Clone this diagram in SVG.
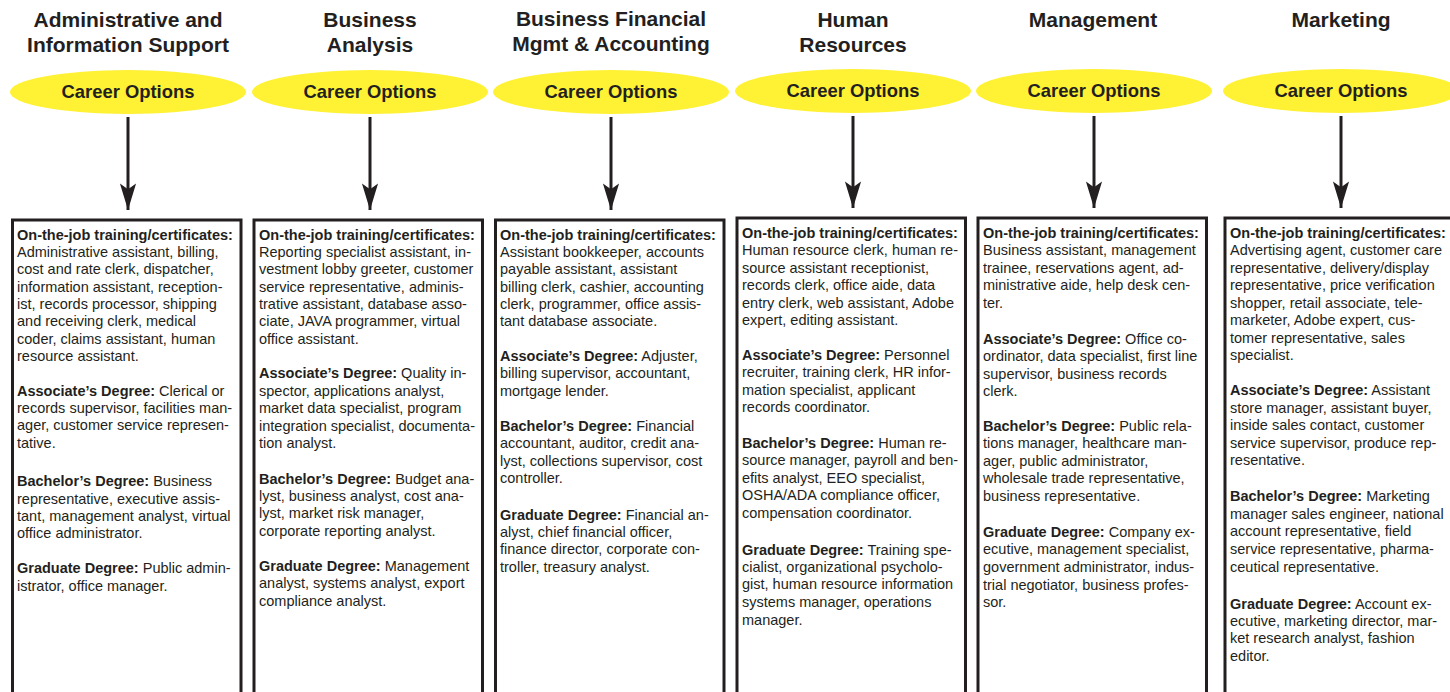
<svg xmlns="http://www.w3.org/2000/svg" width="1450" height="692" viewBox="0 0 1450 692">
<defs>
<style>
.title{font-family:"Liberation Sans",Arial,sans-serif;font-weight:bold;font-size:21px;fill:#231f20;text-anchor:middle}
.opt{font-family:"Liberation Sans",Arial,sans-serif;font-weight:bold;font-size:18.4px;fill:#231f20;text-anchor:middle}
.ell{fill:#fff133;stroke:none}
.box{fill:#ffffff;stroke:#231f20;stroke-width:3}
.body{font-family:"Liberation Sans",Arial,sans-serif;font-size:14.5px;fill:#231f20}
.b{font-weight:bold}
.conn{stroke:#231f20;stroke-width:3;fill:none;marker-end:url(#arr)}
</style>
<marker id="arr" markerUnits="userSpaceOnUse" markerWidth="30" markerHeight="20" viewBox="-24 -8 26 16" refX="0" refY="0" orient="auto">
<path d="M0,0 L-23,-7 L-18,0 L-23,7 Z" fill="#231f20"/>
</marker>
</defs>
<rect width="1450" height="692" fill="#ffffff"/>

<g id="connectors">
<line class="conn" x1="128" y1="117" x2="128" y2="210"/>
<line class="conn" x1="370" y1="117" x2="370" y2="210"/>
<line class="conn" x1="611" y1="117" x2="611" y2="210"/>
<line class="conn" x1="853" y1="116" x2="853" y2="208"/>
<line class="conn" x1="1094" y1="116" x2="1094" y2="208"/>
<line class="conn" x1="1341" y1="116" x2="1341" y2="208"/>
</g>

<g id="title-admin"><text class="title" x="128" y="27">Administrative and</text><text class="title" x="128" y="52">Information Support</text></g>
<g id="title-analysis"><text class="title" x="370" y="27">Business</text><text class="title" x="370" y="52">Analysis</text></g>
<g id="title-finance"><text class="title" x="611" y="26">Business Financial</text><text class="title" x="611" y="51">Mgmt &amp; Accounting</text></g>
<g id="title-hr"><text class="title" x="853" y="27">Human</text><text class="title" x="853" y="52">Resources</text></g>
<g id="title-mgmt"><text class="title" x="1093" y="27">Management</text></g>
<g id="title-mkt"><text class="title" x="1341" y="27">Marketing</text></g>

<g id="career-admin"><ellipse class="ell" cx="128" cy="92" rx="118" ry="22"/><text class="opt" x="128" y="98">Career Options</text></g>
<g id="career-analysis"><ellipse class="ell" cx="370" cy="92" rx="118" ry="22"/><text class="opt" x="370" y="98">Career Options</text></g>
<g id="career-finance"><ellipse class="ell" cx="611" cy="92" rx="118" ry="22"/><text class="opt" x="611" y="98">Career Options</text></g>
<g id="career-hr"><ellipse class="ell" cx="853" cy="91" rx="118" ry="22"/><text class="opt" x="853" y="97">Career Options</text></g>
<g id="career-mgmt"><ellipse class="ell" cx="1094" cy="91" rx="118" ry="22"/><text class="opt" x="1094" y="97">Career Options</text></g>
<g id="career-mkt"><ellipse class="ell" cx="1341" cy="91" rx="118" ry="22"/><text class="opt" x="1341" y="97">Career Options</text></g>

<g id="box-admin">
<rect class="box" x="12.5" y="220" width="228.5" height="490"/>
<text class="body" x="17">
<tspan x="17" y="240" class="b">On-the-job training/certificates:</tspan>
<tspan x="17" y="257">Administrative assistant, billing,</tspan>
<tspan x="17" y="274">cost and rate clerk, dispatcher,</tspan>
<tspan x="17" y="292">information assistant, reception-</tspan>
<tspan x="17" y="309">ist, records processor, shipping</tspan>
<tspan x="17" y="326">and receiving clerk, medical</tspan>
<tspan x="17" y="344">coder, claims assistant, human</tspan>
<tspan x="17" y="361">resource assistant.</tspan>
<tspan x="17" y="396"><tspan class="b">Associate’s Degree:</tspan> Clerical or</tspan>
<tspan x="17" y="413">records supervisor, facilities man-</tspan>
<tspan x="17" y="430">ager, customer service represen-</tspan>
<tspan x="17" y="448">tative.</tspan>
<tspan x="17" y="486"><tspan class="b">Bachelor’s Degree:</tspan> Business</tspan>
<tspan x="17" y="504">representative, executive assis-</tspan>
<tspan x="17" y="521">tant, management analyst, virtual</tspan>
<tspan x="17" y="538">office administrator.</tspan>
<tspan x="17" y="573"><tspan class="b">Graduate Degree:</tspan> Public admin-</tspan>
<tspan x="17" y="591">istrator, office manager.</tspan>
</text>
</g>

<g id="box-analysis">
<rect class="box" x="254" y="220" width="228.5" height="490"/>
<text class="body" x="259">
<tspan x="259" y="240" class="b">On-the-job training/certificates:</tspan>
<tspan x="259" y="257">Reporting specialist assistant, in-</tspan>
<tspan x="259" y="274">vestment lobby greeter, customer</tspan>
<tspan x="259" y="292">service representative, adminis-</tspan>
<tspan x="259" y="309">trative assistant, database asso-</tspan>
<tspan x="259" y="326">ciate, JAVA programmer, virtual</tspan>
<tspan x="259" y="344">office assistant.</tspan>
<tspan x="259" y="378"><tspan class="b">Associate’s Degree:</tspan> Quality in-</tspan>
<tspan x="259" y="396">spector, applications analyst,</tspan>
<tspan x="259" y="413">market data specialist, program</tspan>
<tspan x="259" y="431">integration specialist, documenta-</tspan>
<tspan x="259" y="448">tion analyst.</tspan>
<tspan x="259" y="484"><tspan class="b">Bachelor’s Degree:</tspan> Budget ana-</tspan>
<tspan x="259" y="501">lyst, business analyst, cost ana-</tspan>
<tspan x="259" y="518">lyst, market risk manager,</tspan>
<tspan x="259" y="536">corporate reporting analyst.</tspan>
<tspan x="259" y="571"><tspan class="b">Graduate Degree:</tspan> Management</tspan>
<tspan x="259" y="588">analyst, systems analyst, export</tspan>
<tspan x="259" y="606">compliance analyst.</tspan>
</text>
</g>

<g id="box-finance">
<rect class="box" x="495.5" y="220" width="228.5" height="490"/>
<text class="body" x="500">
<tspan x="500" y="240" class="b">On-the-job training/certificates:</tspan>
<tspan x="500" y="257">Assistant bookkeeper, accounts</tspan>
<tspan x="500" y="274">payable assistant, assistant</tspan>
<tspan x="500" y="292">billing clerk, cashier, accounting</tspan>
<tspan x="500" y="309">clerk, programmer, office assis-</tspan>
<tspan x="500" y="326">tant database associate.</tspan>
<tspan x="500" y="361"><tspan class="b">Associate’s Degree:</tspan> Adjuster,</tspan>
<tspan x="500" y="378">billing supervisor, accountant,</tspan>
<tspan x="500" y="396">mortgage lender.</tspan>
<tspan x="500" y="431"><tspan class="b">Bachelor’s Degree:</tspan> Financial</tspan>
<tspan x="500" y="448">accountant, auditor, credit ana-</tspan>
<tspan x="500" y="466">lyst, collections supervisor, cost</tspan>
<tspan x="500" y="483">controller.</tspan>
<tspan x="500" y="520"><tspan class="b">Graduate Degree:</tspan> Financial an-</tspan>
<tspan x="500" y="537">alyst, chief financial officer,</tspan>
<tspan x="500" y="554">finance director, corporate con-</tspan>
<tspan x="500" y="572">troller, treasury analyst.</tspan>
</text>
</g>

<g id="box-hr">
<rect class="box" x="737" y="218" width="228.5" height="490"/>
<text class="body" x="742">
<tspan x="742" y="238" class="b">On-the-job training/certificates:</tspan>
<tspan x="742" y="255">Human resource clerk, human re-</tspan>
<tspan x="742" y="273">source assistant receptionist,</tspan>
<tspan x="742" y="290">records clerk, office aide, data</tspan>
<tspan x="742" y="308">entry clerk, web assistant, Adobe</tspan>
<tspan x="742" y="325">expert, editing assistant.</tspan>
<tspan x="742" y="360"><tspan class="b">Associate’s Degree:</tspan> Personnel</tspan>
<tspan x="742" y="377">recruiter, training clerk, HR infor-</tspan>
<tspan x="742" y="395">mation specialist, applicant</tspan>
<tspan x="742" y="412">records coordinator.</tspan>
<tspan x="742" y="448"><tspan class="b">Bachelor’s Degree:</tspan> Human re-</tspan>
<tspan x="742" y="465">source manager, payroll and ben-</tspan>
<tspan x="742" y="483">efits analyst, EEO specialist,</tspan>
<tspan x="742" y="500">OSHA/ADA compliance officer,</tspan>
<tspan x="742" y="518">compensation coordinator.</tspan>
<tspan x="742" y="555"><tspan class="b">Graduate Degree:</tspan> Training spe-</tspan>
<tspan x="742" y="572">cialist, organizational psycholo-</tspan>
<tspan x="742" y="589">gist, human resource information</tspan>
<tspan x="742" y="607">systems manager, operations</tspan>
<tspan x="742" y="625">manager.</tspan>
</text>
</g>

<g id="box-mgmt">
<rect class="box" x="978" y="218" width="228.5" height="490"/>
<text class="body" x="983">
<tspan x="983" y="238" class="b">On-the-job training/certificates:</tspan>
<tspan x="983" y="255">Business assistant, management</tspan>
<tspan x="983" y="273">trainee, reservations agent, ad-</tspan>
<tspan x="983" y="290">ministrative aide, help desk cen-</tspan>
<tspan x="983" y="308">ter.</tspan>
<tspan x="983" y="344"><tspan class="b">Associate’s Degree:</tspan> Office co-</tspan>
<tspan x="983" y="361">ordinator, data specialist, first line</tspan>
<tspan x="983" y="379">supervisor, business records</tspan>
<tspan x="983" y="396">clerk.</tspan>
<tspan x="983" y="431"><tspan class="b">Bachelor’s Degree:</tspan> Public rela-</tspan>
<tspan x="983" y="448">tions manager, healthcare man-</tspan>
<tspan x="983" y="466">ager, public administrator,</tspan>
<tspan x="983" y="483">wholesale trade representative,</tspan>
<tspan x="983" y="501">business representative.</tspan>
<tspan x="983" y="537"><tspan class="b">Graduate Degree:</tspan> Company ex-</tspan>
<tspan x="983" y="554">ecutive, management specialist,</tspan>
<tspan x="983" y="572">government administrator, indus-</tspan>
<tspan x="983" y="590">trial negotiator, business profes-</tspan>
<tspan x="983" y="607">sor.</tspan>
</text>
</g>

<g id="box-mkt">
<rect class="box" x="1225" y="218" width="228.5" height="490"/>
<text class="body" x="1230">
<tspan x="1230" y="238" class="b">On-the-job training/certificates:</tspan>
<tspan x="1230" y="255">Advertising agent, customer care</tspan>
<tspan x="1230" y="273">representative, delivery/display</tspan>
<tspan x="1230" y="290">representative, price verification</tspan>
<tspan x="1230" y="308">shopper, retail associate, tele-</tspan>
<tspan x="1230" y="325">marketer, Adobe expert, cus-</tspan>
<tspan x="1230" y="343">tomer representative, sales</tspan>
<tspan x="1230" y="360">specialist.</tspan>
<tspan x="1230" y="395"><tspan class="b">Associate’s Degree:</tspan> Assistant</tspan>
<tspan x="1230" y="413">store manager, assistant buyer,</tspan>
<tspan x="1230" y="430">inside sales contact, customer</tspan>
<tspan x="1230" y="448">service supervisor, produce rep-</tspan>
<tspan x="1230" y="465">resentative.</tspan>
<tspan x="1230" y="501"><tspan class="b">Bachelor’s Degree:</tspan> Marketing</tspan>
<tspan x="1230" y="519">manager sales engineer, national</tspan>
<tspan x="1230" y="536">account representative, field</tspan>
<tspan x="1230" y="554">service representative, pharma-</tspan>
<tspan x="1230" y="572">ceutical representative.</tspan>
<tspan x="1230" y="609"><tspan class="b">Graduate Degree:</tspan> Account ex-</tspan>
<tspan x="1230" y="626">ecutive, marketing director, mar-</tspan>
<tspan x="1230" y="643">ket research analyst, fashion</tspan>
<tspan x="1230" y="661">editor.</tspan>
</text>
</g>
</svg>
